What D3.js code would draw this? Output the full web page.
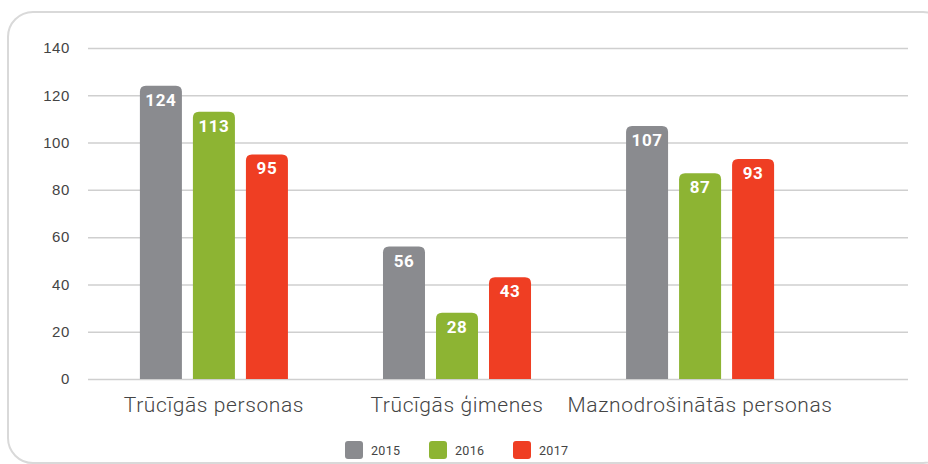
<!DOCTYPE html>
<html>
<head>
<meta charset="utf-8">
<script src="https://cdn.jsdelivr.net/npm/d3@7.9.0/dist/d3.min.js"></script>
<style>
  html, body { margin: 0; padding: 0; background: #fff; }
  svg { display: block; font-family: Roboto, "DejaVu Sans", sans-serif; }
</style>
</head>
<body>
<svg id="chart" width="928" height="464"></svg>
<script>
// chart data
const categories = ['Trūcīgās personas', 'Trūcīgās ģimenes', 'Maznodrošinātās personas'];
const years = ['2015', '2016', '2017'];
const values2015 = [124, 56, 107];
const values2016 = [113, 28, 87];
const values2017 = [95, 43, 93];
const yTicks = [0, 20, 40, 60, 80, 100, 120, 140];

const series = [values2015, values2016, values2017];
const colors = d3.scaleOrdinal().domain(years).range(['#8a8b8f', '#8db433', '#ef3e23']);

const svg = d3.select('#chart');

// rounded frame around the chart (runs off the right edge)
svg.append('rect')
  .attr('x', 8).attr('y', 12)
  .attr('width', 940).attr('height', 451)
  .attr('rx', 25)
  .attr('fill', 'none')
  .attr('stroke', '#d9d9d9')
  .attr('stroke-width', 2);

const y = d3.scaleLinear().domain([0, 140]).range([379, 48]);

const x0 = d3.scaleBand()
  .domain(categories)
  .range([92.5, 821.5])
  .paddingInner(0.391)
  .paddingOuter(0.195);

const x1 = d3.scaleBand()
  .domain(years)
  .range([0, x0.bandwidth()])
  .paddingInner(11 / 53);

// gridlines + tick labels
const yAxis = svg.append('g')
  .attr('transform', 'translate(88,0)')
  .call(d3.axisLeft(y).tickValues(yTicks).tickSize(-820).tickPadding(18));
yAxis.select('.domain').remove();
yAxis.selectAll('.tick line').attr('stroke', '#cfcfcf').attr('stroke-width', 1.5);
yAxis.selectAll('.tick text')
  .attr('fill', '#444')
  .attr('font-size', 15)
  .attr('font-weight', 300)
  .attr('letter-spacing', 0.6);

// rows for the bars
const rows = [];
categories.forEach((c, ci) => {
  years.forEach((yr, yi) => rows.push({ cat: c, year: yr, value: series[yi][ci] }));
});

// bar path with rounded top corners only
function barPath(x, yTop, w, h, r) {
  return `M${x},${yTop + h}V${yTop + r}Q${x},${yTop} ${x + r},${yTop}` +
    `H${x + w - r}Q${x + w},${yTop} ${x + w},${yTop + r}V${yTop + h}Z`;
}

const bars = svg.append('g');
bars.selectAll('path')
  .data(rows)
  .join('path')
  .attr('d', d => {
    const bx = x0(d.cat) + x1(d.year);
    return barPath(bx, y(d.value), x1.bandwidth(), y(0) - y(d.value), 6);
  })
  .attr('fill', d => colors(d.year));

bars.selectAll('text')
  .data(rows)
  .join('text')
  .attr('x', d => x0(d.cat) + x1(d.year) + x1.bandwidth() / 2)
  .attr('y', d => y(d.value) + 20)
  .attr('text-anchor', 'middle')
  .attr('fill', '#fff')
  .attr('font-weight', 'bold')
  .attr('font-size', 17)
  .attr('letter-spacing', 0.6)
  .text(d => d.value);

// category labels
svg.append('g')
  .selectAll('text')
  .data(categories)
  .join('text')
  .attr('x', d => x0(d) + x0.bandwidth() / 2)
  .attr('y', 412)
  .attr('text-anchor', 'middle')
  .attr('fill', '#444')
  .attr('font-size', 21)
  .attr('font-weight', 300)
  .attr('letter-spacing', 0.6)
  .text(d => d);

// legend
const legend = svg.append('g')
  .selectAll('g')
  .data(years)
  .join('g')
  .attr('transform', (d, i) => `translate(${345 + i * 84},441)`);

legend.append('rect')
  .attr('width', 18).attr('height', 18)
  .attr('rx', 3)
  .attr('fill', d => colors(d));

legend.append('text')
  .attr('x', 26).attr('y', 14)
  .attr('fill', '#444')
  .attr('font-size', 12.5)
  .attr('letter-spacing', 0.3)
  .text(d => d);
</script>
</body>
</html>
